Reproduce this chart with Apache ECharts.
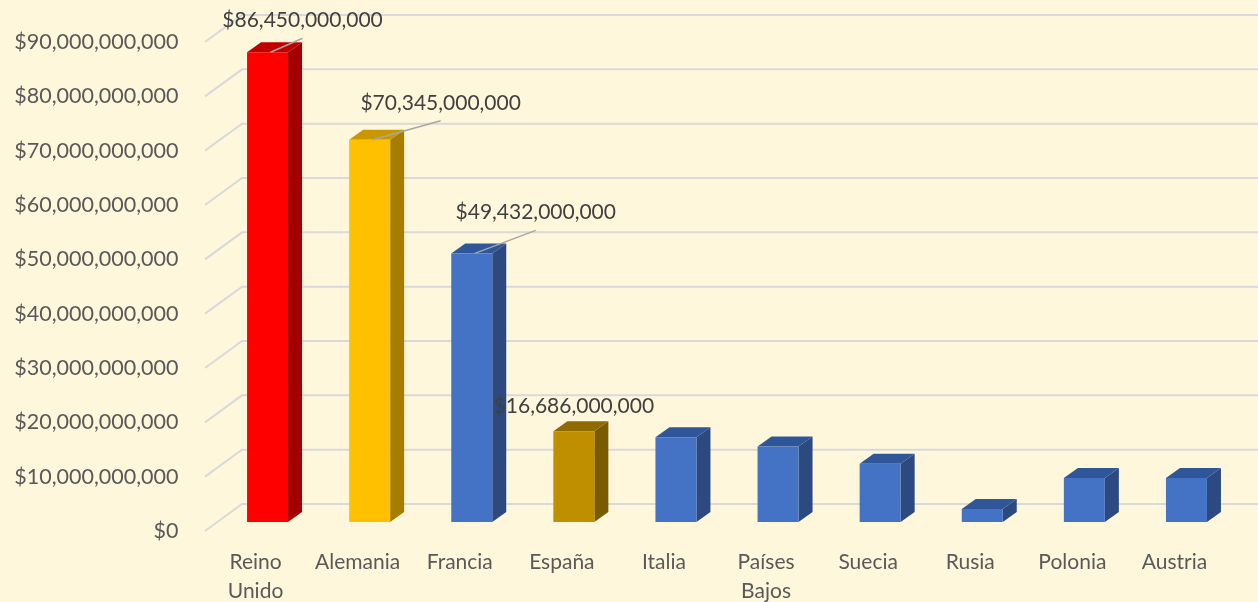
<!DOCTYPE html>
<html>
<head>
<meta charset="utf-8">
<script src="https://cdn.jsdelivr.net/npm/echarts@6/dist/echarts.min.js"></script>
<style>
  html, body { margin: 0; padding: 0; background: #FFF7DC; }
  #main { width: 1258px; height: 602px; }
</style>
</head>
<body>
<div id="main"></div>
<script>
// datos
const categories = ['Reino Unido', 'Alemania', 'Francia', 'España', 'Italia', 'Países Bajos', 'Suecia', 'Rusia', 'Polonia', 'Austria']
const values = [86450000000, 70345000000, 49432000000, 16686000000, 15600000000, 13900000000, 10700000000, 2400000000, 8100000000, 8100000000]
const yTicks = [0, 10000000000, 20000000000, 30000000000, 40000000000, 50000000000, 60000000000, 70000000000, 80000000000, 90000000000]
const barColors = ['red', 'gold', 'blue', 'dark', 'blue', 'blue', 'blue', 'blue', 'blue', 'blue']
const labelled = [true, true, true, true, false, false, false, false, false, false]

// estilos: [frente, lado, arriba]
const palette = {
  red: ['#FF0000', '#A30000', '#C00000'],
  gold: ['#FFC000', '#A67D00', '#C99700'],
  dark: ['#BF8F00', '#7A5B00', '#8F6B00'],
  blue: ['#4472C4', '#2C4A80', '#30569A']
}
// posicion manual de las etiquetas (dx, dy desde la cara superior)
const labelShift = [[35, -32], [71, -37], [64, -41], [0, -25]]

const BAR_W = 41
const DX = 14
const DY = 10
const FONT = 'Lato, "Open Sans", sans-serif'

const money = v => '$' + Number(v).toLocaleString('en-US')

const myChart = echarts.init(document.getElementById('main'))

function renderGrid(params, api) {
  const y = api.coord([0, api.value(1)])[1]
  const gx = params.coordSys.x
  return {
    type: 'polyline',
    silent: true,
    shape: { points: [[gx - 11.5, y + 9], [gx + 25.5, y - 18], [api.getWidth(), y - 18]] },
    style: { stroke: '#D9D9D9', lineWidth: 2, fill: null }
  }
}

function renderBar(params, api) {
  const i = api.value(0)
  const v = api.value(1)
  const base = api.coord([i, 0])
  const top = api.coord([i, v])
  const x0 = base[0] - BAR_W / 2
  const x1 = base[0] + BAR_W / 2
  const y0 = base[1]
  const y1 = top[1]
  const c = palette[barColors[i]]
  const children = [
    { type: 'polygon', shape: { points: [[x1, y0], [x1 + DX, y0 - DY], [x1 + DX, y1 - DY], [x1, y1]] }, style: { fill: c[1] } },
    { type: 'polygon', shape: { points: [[x0, y1], [x0 + DX, y1 - DY], [x1 + DX, y1 - DY], [x1, y1]] }, style: { fill: c[2] } },
    { type: 'rect', shape: { x: x0, y: y1, width: BAR_W, height: y0 - y1 }, style: { fill: c[0] } }
  ]
  if (labelled[i]) {
    const s = labelShift[i]
    const lx = base[0] + s[0]
    const ly = y1 + s[1]
    if (Math.abs(s[0]) > 10) {
      children.push({
        type: 'line',
        shape: { x1: base[0] + 3, y1: y1, x2: lx, y2: ly + 18 },
        style: { stroke: '#A6A6A6', lineWidth: 1.5 }
      })
    }
    children.push({
      type: 'text',
      style: {
        text: money(v), x: lx, y: ly, align: 'center', verticalAlign: 'middle',
        fill: '#404040', font: '21px ' + FONT
      }
    })
  }
  return { type: 'group', children: children }
}

const option = {
  backgroundColor: '#FFF7DC',
  textStyle: { fontFamily: FONT },
  grid: { left: 216.5, right: 20.5, top: 33, bottom: 80, outerBoundsMode: 'none', containLabel: false },
  xAxis: {
    type: 'category',
    data: categories,
    axisLine: { show: false },
    axisTick: { show: false },
    axisLabel: {
      formatter: v => v.replace(' ', '\n'),
      color: '#595959',
      fontSize: 21,
      fontFamily: FONT,
      lineHeight: 29,
      margin: 26,
      padding: [0, 24, 0, 0],
      interval: 0
    }
  },
  yAxis: {
    type: 'value',
    min: 0,
    max: 90000000000,
    interval: 10000000000,
    splitLine: { show: false },
    axisLine: { show: false },
    axisTick: { show: false },
    axisLabel: {
      formatter: money,
      color: '#595959',
      fontSize: 21.5,
      fontFamily: FONT,
      margin: 38,
      verticalAlign: 'top',
      lineHeight: 18
    }
  },
  series: [
    {
      type: 'custom',
      z: 1,
      renderItem: renderGrid,
      data: yTicks.map(t => [0, t]),
      encode: { x: 0, y: 1 }
    },
    {
      type: 'custom',
      z: 2,
      renderItem: renderBar,
      data: values.map((v, i) => [i, v]),
      encode: { x: 0, y: 1 }
    }
  ]
}
myChart.setOption(option)
</script>
</body>
</html>
